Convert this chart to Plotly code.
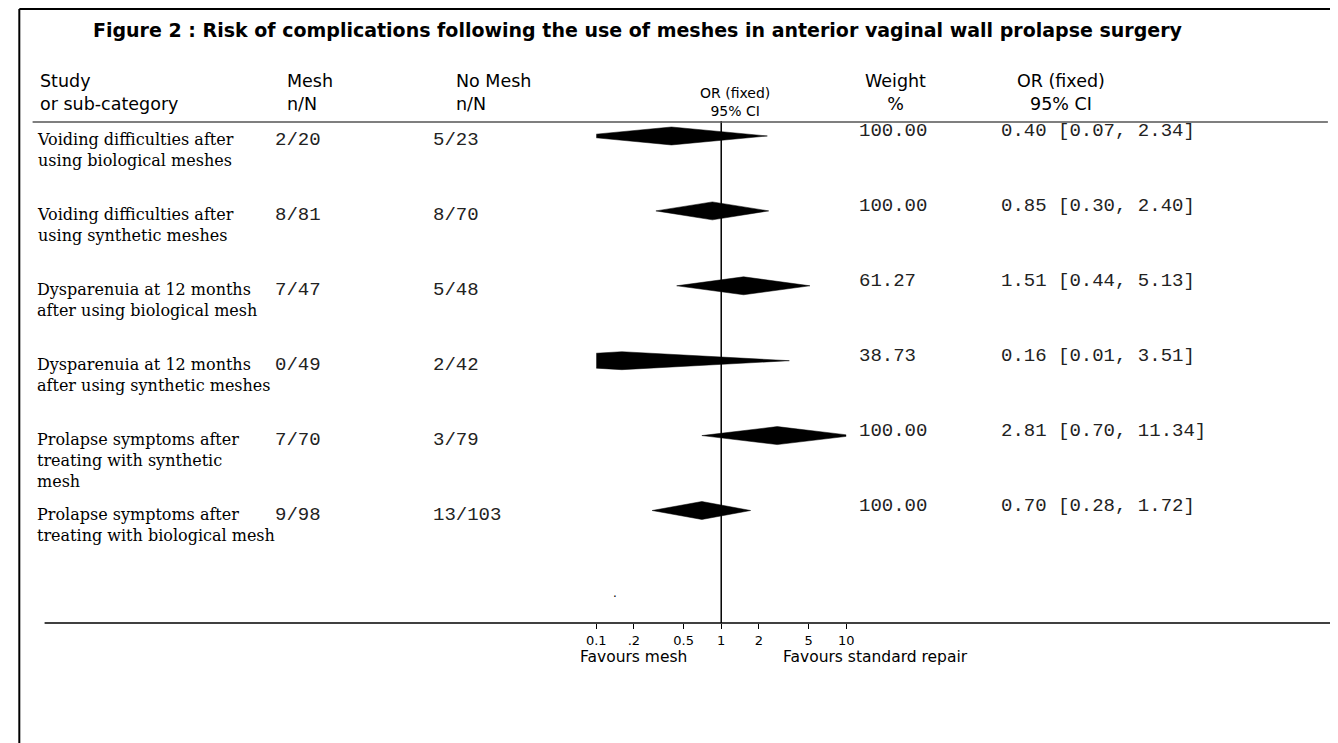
import plotly.graph_objects as go

# ---------------- data ----------------
studies = [
    "Voiding difficulties after<br>using biological meshes",
    "Voiding difficulties after<br>using synthetic meshes",
    "Dysparenuia at 12 months<br>after using biological mesh",
    "Dysparenuia at 12 months<br>after using synthetic meshes",
    "Prolapse symptoms after<br>treating with synthetic<br>mesh",
    "Prolapse symptoms after<br>treating with biological mesh",
]
mesh_events = [2, 8, 7, 0, 7, 9]
mesh_total = [20, 81, 47, 49, 70, 98]
nomesh_events = [5, 8, 5, 2, 3, 13]
nomesh_total = [23, 70, 48, 42, 79, 103]
weight_pct = [100.00, 100.00, 61.27, 38.73, 100.00, 100.00]
odds_ratio = [0.40, 0.85, 1.51, 0.16, 2.81, 0.70]
ci_lower = [0.07, 0.30, 0.44, 0.01, 0.70, 0.28]
ci_upper = [2.34, 2.40, 5.13, 3.51, 11.34, 1.72]
tick_values = [0.1, 0.2, 0.5, 1, 2, 5, 10]
tick_labels = ["0.1", ".2", "0.5", "1", "2", "5", "10"]

title_text = "Figure 2 : Risk of complications following the use of meshes in anterior vaginal wall prolapse surgery"

# ---------------- layout helpers ----------------
# figure sits inside the page body margin; horizontal positions are corrected
# for how the page lands in the photographed window
OFF = 8
W, H = 1338 - OFF, 743 - OFF


def px(x):
    page_x = (x - 10.5) / 0.987
    return min(max((page_x - OFF) / W, 0.0), 1.0)


def py(y):
    return 1 - (y - OFF) / H


SANS = "DejaVu Sans"
SERIF = "DejaVu Serif"
MONO = "Liberation Mono"

fig = go.Figure()

# diamonds (clipped by the plot area like the original)
half_h = 0.12
for i in range(len(odds_ratio)):
    fig.add_trace(go.Scatter(
        x=[ci_lower[i], odds_ratio[i], ci_upper[i], odds_ratio[i], ci_lower[i]],
        y=[i, i - half_h, i, i + half_h, i],
        mode="lines", fill="toself", fillcolor="black",
        line=dict(color="black", width=0.5),
        hoverinfo="skip", showlegend=False,
    ))

# line of no effect (OR = 1)
fig.add_trace(go.Scatter(
    x=[1, 1], y=[-0.2, 6.502], mode="lines",
    line=dict(color="black", width=1.5),
    hoverinfo="skip", showlegend=False,
))

annotations = []


def ann(text, x, y, size, family=SANS, xanchor="left", yanchor="middle",
        yref="paper", yshift=0, color="black", align="left"):
    annotations.append(dict(
        text=text, x=x, y=y, xref="paper", yref=yref, showarrow=False,
        xanchor=xanchor, yanchor=yanchor, yshift=yshift, align=align,
        font=dict(family=family, size=size, color=color),
    ))


# title
ann("<b>" + title_text + "</b>", px(639), py(30), 19, xanchor="center")

# column headers (two-line blocks)
ann("Study<br>or sub-category", px(38), py(92), 17.5)
ann("Mesh<br>n/N", px(286), py(92), 17.5)
ann("No Mesh<br>n/N", px(455), py(92), 17.5)
ann("OR (fixed)<br>95% CI", px(736), py(102), 14, xanchor="center", align="center")
ann("Weight<br>%", px(896), py(92), 17.5, xanchor="center", align="center")
ann("OR (fixed)<br>95% CI", px(1062), py(92), 17.5, xanchor="center", align="center")

# rows
for i in range(len(studies)):
    ann(studies[i], px(35), i, 16, family=SERIF, yanchor="top", yref="y", yshift=8)
    ann(f"{mesh_events[i]}/{mesh_total[i]}", px(274), i, 19, family=MONO,
        yref="y", yshift=-4, color="#222")
    ann(f"{nomesh_events[i]}/{nomesh_total[i]}", px(432), i, 19, family=MONO,
        yref="y", yshift=-4, color="#222")
    ann(f"{weight_pct[i]:.2f}", px(858), i, 19, family=MONO,
        yref="y", yshift=5, color="#222")
    ann(f"{odds_ratio[i]:.2f} [{ci_lower[i]:.2f}, {ci_upper[i]:.2f}]", px(1000), i, 19,
        family=MONO, yref="y", yshift=5, color="#222")

# axis captions
ann(".", px(612), py(593), 12)
ann("Favours mesh", px(579), py(657), 15.5)
ann("Favours standard repair", px(782), py(657), 15.5)

shapes = [
    # frame (top and left)
    dict(type="line", xref="paper", yref="paper", x0=0.001, x1=1, y0=py(9), y1=py(9),
         line=dict(color="black", width=2)),
    dict(type="line", xref="paper", yref="paper", x0=0.001, x1=0.001, y0=py(9), y1=0,
         line=dict(color="black", width=2)),
    # header rule
    dict(type="line", xref="paper", yref="paper", x0=px(33), x1=px(1329), y0=py(122), y1=py(122),
         line=dict(color="#555555", width=1.5)),
    # bottom axis rule
    dict(type="line", xref="paper", yref="paper", x0=px(45), x1=1, y0=py(623), y1=py(623),
         line=dict(color="black", width=1.5)),
]

fig.update_layout(
    width=W, height=H,
    margin=dict(l=0, r=0, t=0, b=0),
    paper_bgcolor="white", plot_bgcolor="white",
    showlegend=False,
    annotations=annotations,
    shapes=shapes,
    xaxis=dict(
        type="log", range=[-1, 1], domain=[px(597), px(847)],
        tickmode="array", tickvals=tick_values, ticktext=tick_labels,
        ticks="outside", ticklen=5, tickwidth=1, tickcolor="black",
        tickfont=dict(family=SANS, size=13, color="black"),
        showline=False, showgrid=False, zeroline=False, fixedrange=True,
    ),
    yaxis=dict(
        range=[6.502, -0.2], domain=[py(623), py(121)],
        visible=False, showgrid=False, zeroline=False, fixedrange=True,
    ),
)

fig.write_html("out.html")
